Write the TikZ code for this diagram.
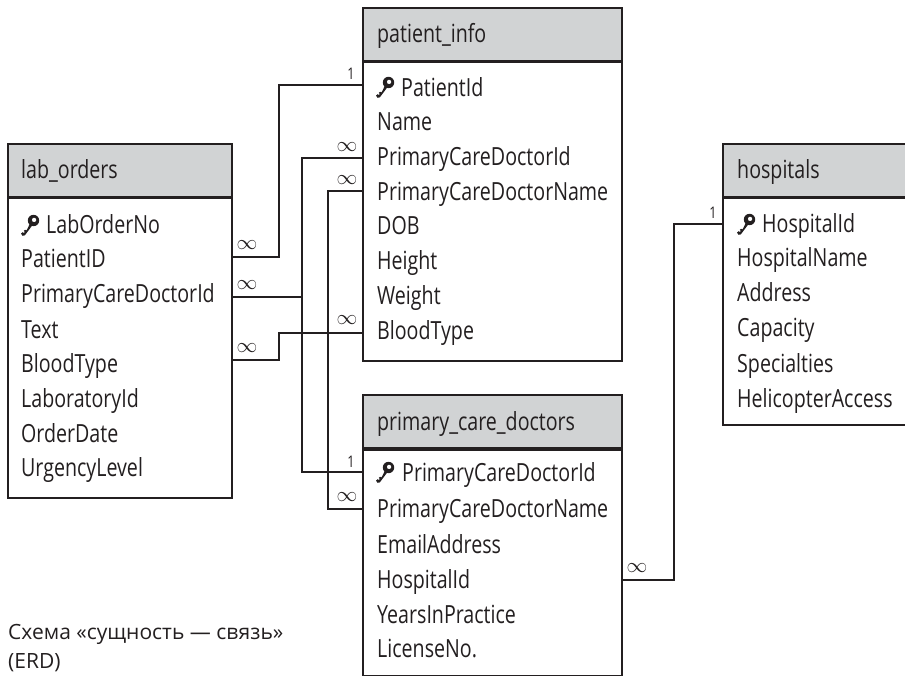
\documentclass[tikz,border=0pt]{standalone}
\usepackage{fontspec}
\setmainfont[FakeStretch=0.785]{Open Sans}
\newfontfamily\capfont{Open Sans}
\definecolor{ink}{HTML}{231F20}
\definecolor{head}{HTML}{D1D3D4}
\tikzset{
  x=1pt,y=-1pt,
  bodybox/.style={draw=ink,line width=2pt,fill=white,anchor=north west,inner sep=0pt},
  headbox/.style={draw=ink,line width=2pt,fill=head,anchor=north west,inner sep=0pt},
  rule/.style={draw=ink,line width=3pt},
  row/.style={anchor=base west,inner sep=0pt,text=ink,font=\fontsize{25}{25}\selectfont},
  link/.style={draw=ink,line width=1.7pt},
  inf/.style={inner sep=0pt,text=ink,font=\fontsize{21}{21}\selectfont},
  one/.style={inner sep=0pt,text=ink,font=\fontsize{16}{16}\selectfont},
  capt/.style={anchor=base west,inner sep=0pt,text=ink,font=\capfont\fontsize{21}{21}\selectfont},
  pics/keyglyph/.style={code={
    \fill[ink,even odd rule] (3.5,-5.5) circle[radius=5.7] (4.1,-6.1) circle[radius=2.3];
    \fill[ink] (0.2,-3.0) -- (2.4,-0.8) -- (-5.2,9.4) -- (-7.4,9.8) -- (-9,7.6) -- (-7.2,6.2) -- (-6.2,7.1) -- (-5.2,6) -- (-6.2,4.9) -- (-4.9,3.7) -- (-3.8,4.6) -- (-2.9,3.4) -- cycle;
  }}
}
\begin{document}
\begin{tikzpicture}
\useasboundingbox (0,0) rectangle (905,676);
% tables
\node[bodybox,minimum width=259pt,minimum height=353pt] (pb) at (362,7) {};
\node[headbox,minimum width=259pt,minimum height=53pt] (ph) at (362,7) {};
\draw[rule] (ph.south west) -- (ph.south east);
\node[bodybox,minimum width=224pt,minimum height=354pt] (lb) at (7,143) {};
\node[headbox,minimum width=224pt,minimum height=53pt] (lh) at (7,143) {};
\draw[rule] (lh.south west) -- (lh.south east);
\node[bodybox,minimum width=190pt,minimum height=281pt] (hb) at (722,143) {};
\node[headbox,minimum width=190pt,minimum height=53pt] (hh) at (722,143) {};
\draw[rule] (hh.south west) -- (hh.south east);
\node[bodybox,minimum width=259pt,minimum height=281pt] (db) at (362,394) {};
\node[headbox,minimum width=259pt,minimum height=53pt] (dh) at (362,394) {};
\draw[rule] (dh.south west) -- (dh.south east);
% titles
\node[row] (pt) at (377,43) {patient\_info};
\node[row] (lt) at (21,179) {lab\_orders};
\node[row] (ht) at (737,179) {hospitals};
\node[row] (dt) at (377,430) {primary\_care\_doctors};
% rows
\node[row] (p1) at (401,96.5) {PatientId};
\node[row] (p2) at (377,131) {Name};
\node[row] (p3) at (377,166) {PrimaryCareDoctorId};
\node[row] (p4) at (377,201) {PrimaryCareDoctorName};
\node[row] (p5) at (377,235) {DOB};
\node[row] (p6) at (377,270) {Height};
\node[row] (p7) at (377,305) {Weight};
\node[row] (p8) at (377,340) {BloodType};
\node[row] (l1) at (46,233.5) {LabOrderNo};
\node[row] (l2) at (21,268) {PatientID};
\node[row] (l3) at (21,303) {PrimaryCareDoctorId};
\node[row] (l4) at (21,338) {Text};
\node[row] (l5) at (21,372) {BloodType};
\node[row] (l6) at (21,407) {LaboratoryId};
\node[row] (l7) at (21,442) {OrderDate};
\node[row] (l8) at (21,476) {UrgencyLevel};
\node[row] (h1) at (762,233) {HospitalId};
\node[row] (h2) at (737,267) {HospitalName};
\node[row] (h3) at (737,302) {Address};
\node[row] (h4) at (737,337) {Capacity};
\node[row] (h5) at (737,372) {Specialties};
\node[row] (h6) at (737,407) {HelicopterAccess};
\node[row] (d1) at (402,481) {PrimaryCareDoctorId};
\node[row] (d2) at (377,517) {PrimaryCareDoctorName};
\node[row] (d3) at (377,553) {EmailAddress};
\node[row] (d4) at (377,588) {HospitalId};
\node[row] (d5) at (377,623) {YearsInPractice};
\node[row] (d6) at (377,657.5) {LicenseNo.};
% keys
\pic at (385,88) {keyglyph};
\pic at (30,226) {keyglyph};
\pic at (746,225) {keyglyph};
\pic at (385,473) {keyglyph};
% connector ends
\coordinate (lA) at (lb.east |- 0,257);
\coordinate (lB) at (lb.east |- 0,297);
\coordinate (lC) at (lb.east |- 0,360);
\coordinate (pA) at (pb.west |- 0,85);
\coordinate (pB) at (pb.west |- 0,158);
\coordinate (pC) at (pb.west |- 0,191);
\coordinate (pD) at (pb.west |- 0,333);
\coordinate (dA) at (db.west |- 0,472);
\coordinate (dB) at (db.west |- 0,509);
\coordinate (dC) at (db.east |- 0,580);
\coordinate (hA) at (hb.west |- 0,224);
\coordinate (v1) at (279,170);
\coordinate (v2) at (302,300);
\coordinate (v3) at (328,300);
\coordinate (v4) at (279,345);
\coordinate (v5) at (674,400);
% connectors
\draw[link] (lA) -| (v1) |- (pA);
\draw[link] (pB) -| (v2) |- (dA);
\draw[link] (lB) -- (lB -| v2);
\draw[link] (pC) -| (v3) |- (dB);
\draw[link] (lC) -| (v4) |- (pD);
\draw[link] (dC) -| (v5) |- (hA);
% cardinalities
\node[one] (c1) at (351,74) {1};
\node[inf] (c2) at (347,147) {$\infty$};
\node[inf] (c3) at (347,180) {$\infty$};
\node[inf] (c4) at (347,320) {$\infty$};
\node[one] (c5) at (351,462) {1};
\node[inf] (c6) at (347,497) {$\infty$};
\node[inf] (c7) at (247,245) {$\infty$};
\node[inf] (c8) at (247,285) {$\infty$};
\node[inf] (c9) at (247,348) {$\infty$};
\node[inf] (c10) at (637,568) {$\infty$};
\node[one] (c11) at (713,213) {1};
% caption
\node[capt] (cap1) at (8,639) {Схема «сущность — связь»};
\node[capt] (cap2) at (8,668) {(ERD)};
\end{tikzpicture}
\end{document}
